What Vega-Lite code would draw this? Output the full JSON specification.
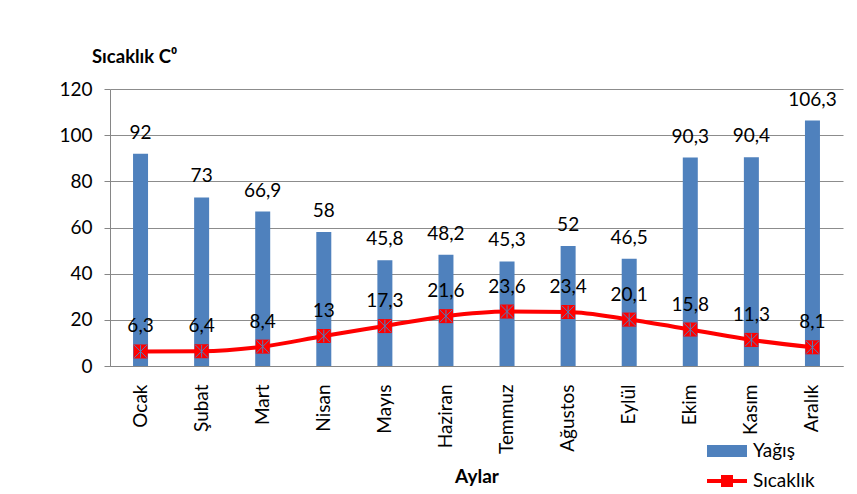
{
  "$schema": "https://vega.github.io/schema/vega-lite/v6.json",
  "width": 733,
  "height": 277,
  "autosize": {"type": "none"},
  "padding": {"left": 110, "top": 89, "right": 14, "bottom": 128},
  "background": "white",
  "config": {
    "locale": {"number": {"decimal": ",", "thousands": ".", "grouping": [3], "currency": ["", " TL"]}},
    "view": {"stroke": null},
    "font": "Lato"
  },
  "title": {
    "text": "Sıcaklık C⁰",
    "anchor": "start",
    "frame": "group",
    "dx": -18,
    "dy": 28,
    "offset": 27,
    "baseline": "alphabetic",
    "fontSize": 18.5,
    "fontWeight": "bold",
    "color": "black",
    "font": "Lato"
  },
  "data": {
    "values": [
      {"ay": "Ocak", "yagis": 92, "sicaklik": 6.3},
      {"ay": "Şubat", "yagis": 73, "sicaklik": 6.4},
      {"ay": "Mart", "yagis": 66.9, "sicaklik": 8.4},
      {"ay": "Nisan", "yagis": 58, "sicaklik": 13},
      {"ay": "Mayıs", "yagis": 45.8, "sicaklik": 17.3},
      {"ay": "Haziran", "yagis": 48.2, "sicaklik": 21.6},
      {"ay": "Temmuz", "yagis": 45.3, "sicaklik": 23.6},
      {"ay": "Ağustos", "yagis": 52, "sicaklik": 23.4},
      {"ay": "Eylül", "yagis": 46.5, "sicaklik": 20.1},
      {"ay": "Ekim", "yagis": 90.3, "sicaklik": 15.8},
      {"ay": "Kasım", "yagis": 90.4, "sicaklik": 11.3},
      {"ay": "Aralık", "yagis": 106.3, "sicaklik": 8.1}
    ]
  },
  "encoding": {
    "x": {
      "field": "ay",
      "type": "nominal",
      "sort": null,
      "title": "Aylar",
      "scale": {"paddingInner": 0, "paddingOuter": 0},
      "axis": {
        "labelAngle": -90,
        "labelFontSize": 19,
        "labelColor": "black",
        "labelPadding": 18,
        "ticks": false,
        "domainColor": "#868686",
        "titleFontSize": 19,
        "titleFontWeight": "bold",
        "titleColor": "black",
        "titlePadding": 14
      }
    }
  },
  "layer": [
    {
      "mark": {"type": "bar", "width": 15, "color": "#4F81BD"},
      "encoding": {
        "y": {
          "field": "yagis",
          "type": "quantitative",
          "scale": {"domain": [0, 120], "nice": false},
          "axis": {
            "title": null,
            "values": [0, 20, 40, 60, 80, 100, 120],
            "grid": true,
            "gridColor": "#8C8C8C",
            "domainColor": "#868686",
            "tickColor": "#868686",
            "tickSize": 6,
            "labelFontSize": 19,
            "labelColor": "black",
            "labelPadding": 12
          }
        },
        "color": {
          "datum": "Yağış",
          "type": "nominal",
          "scale": {"domain": ["Yağış", "Sıcaklık"], "range": ["#4F81BD", "#FF0000"]},
          "legend": {
            "title": null,
            "orient": "none",
            "legendX": 597,
            "legendY": 342,
            "labelFontSize": 19,
            "labelColor": "black",
            "labelFont": "Lato",
            "symbolSize": 1600,
            "rowPadding": -14,
            "labelOffset": 6,
            "encode": {
              "symbols": {
                "update": {
                  "shape": {"signal": "datum.value === 'Yağış' ? 'M-1,-0.3H1V0.3H-1Z' : 'M-1,-0.1H1V0.1H-1Z M-0.3,-0.3H0.3V0.3H-0.3Z'"},
                  "size": {"value": 1600},
                  "fill": {"signal": "datum.value === 'Yağış' ? '#4F81BD' : '#FF0000'"},
                  "fillOpacity": {"value": 1},
                  "opacity": {"value": 1},
                  "strokeWidth": {"value": 0}
                }
              }
            }
          }
        }
      }
    },
    {
      "mark": {"type": "text", "fontSize": 19, "color": "black", "baseline": "alphabetic", "dy": -15},
      "encoding": {
        "y": {"field": "yagis", "type": "quantitative"},
        "text": {"field": "yagis", "type": "quantitative", "format": "~g"}
      }
    },
    {
      "mark": {"type": "line", "interpolate": "monotone", "strokeWidth": 4},
      "encoding": {
        "y": {"field": "sicaklik", "type": "quantitative"},
        "color": {"datum": "Sıcaklık", "type": "nominal"}
      }
    },
    {
      "mark": {"type": "point", "shape": "square", "filled": true, "size": 196, "color": "#FF0000", "opacity": 1},
      "encoding": {
        "y": {"field": "sicaklik", "type": "quantitative"}
      }
    },
    {
      "mark": {"type": "point", "shape": "M-1,-1L1,1M-1,1L1,-1M0,-1L0,1", "filled": false, "size": 160, "stroke": "#4F81BD", "strokeWidth": 1, "opacity": 1},
      "encoding": {
        "y": {"field": "sicaklik", "type": "quantitative"}
      }
    },
    {
      "mark": {"type": "text", "fontSize": 19, "color": "black", "baseline": "alphabetic", "dy": -19},
      "encoding": {
        "y": {"field": "sicaklik", "type": "quantitative"},
        "text": {"field": "sicaklik", "type": "quantitative", "format": "~g"}
      }
    }
  ]
}
